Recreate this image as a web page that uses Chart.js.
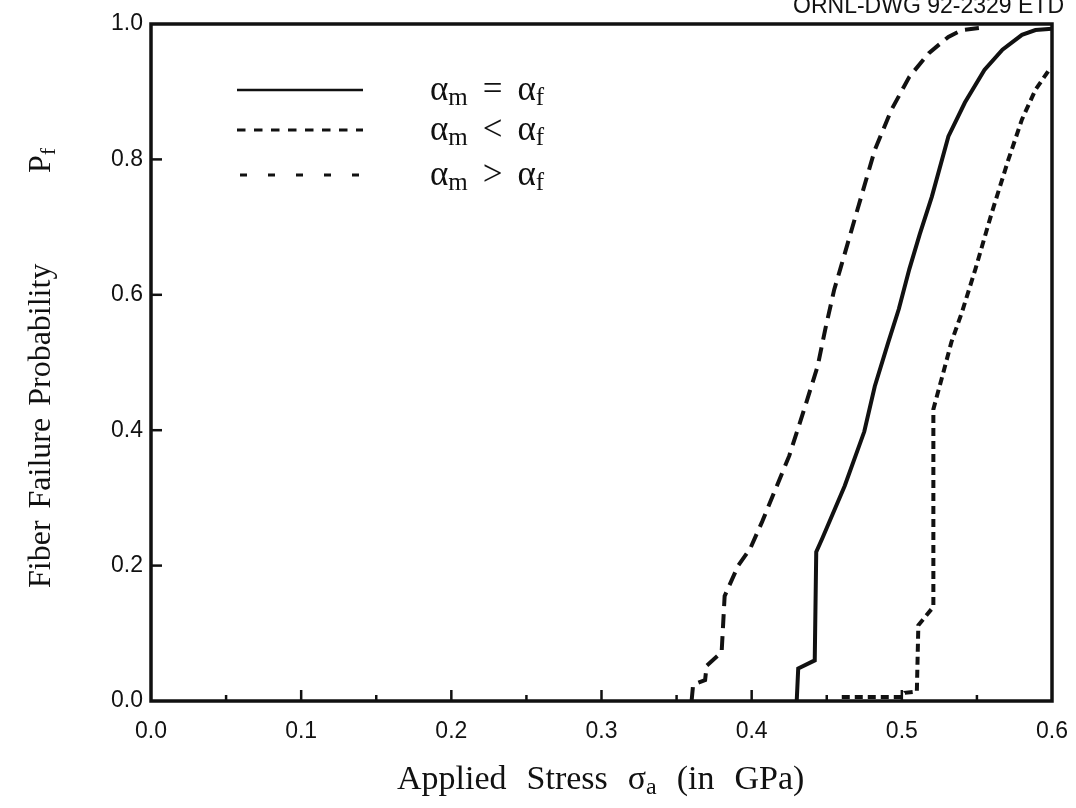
<!DOCTYPE html>
<html lang="en">
<head>
<meta charset="UTF-8">
<title>Fiber Failure Probability</title>
<script src="https://cdn.jsdelivr.net/npm/chart.js@4.4.1/dist/chart.umd.min.js"></script>
<style>
    html, body { margin: 0; padding: 0; background: #fff; }
</style>
</head>
<body>
<canvas id="pfChart" width="1076" height="808"></canvas>
<script>
// values (stress in GPa, probability P_f)
const stressEq = [0.430, 0.431, 0.442, 0.443, 0.447, 0.462, 0.475, 0.482, 0.491, 0.498, 0.505, 0.512, 0.520, 0.531, 0.542, 0.555, 0.567, 0.580, 0.589, 0.600];
const probEq   = [0.000, 0.048, 0.060, 0.220, 0.240, 0.318, 0.398, 0.465, 0.530, 0.579, 0.638, 0.690, 0.745, 0.834, 0.884, 0.932, 0.962, 0.984, 0.991, 0.993];

const stressLt = [0.460, 0.500, 0.502, 0.510, 0.511, 0.521, 0.521, 0.527, 0.533, 0.540, 0.549, 0.560, 0.571, 0.580, 0.589, 0.598, 0.600];
const probLt   = [0.006, 0.006, 0.012, 0.014, 0.112, 0.139, 0.431, 0.480, 0.530, 0.574, 0.638, 0.722, 0.800, 0.859, 0.903, 0.932, 0.935];

const stressGt = [0.360, 0.361, 0.369, 0.370, 0.380, 0.382, 0.391, 0.399, 0.407, 0.425, 0.435, 0.444, 0.449, 0.455, 0.459, 0.471, 0.482, 0.493, 0.505, 0.518, 0.531, 0.540, 0.555];
const probGt   = [0.000, 0.024, 0.031, 0.052, 0.072, 0.155, 0.200, 0.225, 0.265, 0.362, 0.431, 0.495, 0.549, 0.608, 0.638, 0.730, 0.814, 0.873, 0.922, 0.957, 0.981, 0.991, 0.995];

const xTickLabels = ['0.0', '0.1', '0.2', '0.3', '0.4', '0.5', '0.6'];
const yTickLabels = ['0.0', '0.2', '0.4', '0.6', '0.8', '1.0'];
const seriesNames = [['m', '=', 'f'], ['m', '<', 'f'], ['m', '>', 'f']];

const INK = '#111';
const SERIF = '"Liberation Serif", "DejaVu Serif", serif';
const SANS = '"Liberation Sans", Arial, sans-serif';

function toPoints(xs, ys) {
    return xs.map((x, i) => ({ x: x, y: ys[i] }));
}

// text with a lowered, smaller subscript; returns the advance
function drawSub(ctx, x, y, main, sub, size) {
    ctx.font = size + 'px ' + SERIF;
    ctx.fillText(main, x, y);
    let w = ctx.measureText(main).width;
    ctx.font = Math.round(size * 0.7) + 'px ' + SERIF;
    ctx.fillText(sub, x + w, y + Math.round(size * 0.15));
    return w + ctx.measureText(sub).width;
}

// words drawn one after another with a fixed gap between them
function drawWords(ctx, x, y, words, size, gap) {
    ctx.font = size + 'px ' + SERIF;
    words.forEach(w => {
        if (Array.isArray(w)) {
            x += drawSub(ctx, x, y, w[0], w[1], size);
            ctx.font = size + 'px ' + SERIF;
        } else {
            ctx.fillText(w, x, y);
            x += ctx.measureText(w).width;
        }
        x += gap;
    });
}

const decorations = {
    id: 'decorations',
    beforeDraw(chart) {
        const ctx = chart.ctx;
        ctx.save();
        ctx.fillStyle = '#fff';
        ctx.fillRect(0, 0, chart.width, chart.height);
        ctx.restore();
    },
    afterDatasetsDraw(chart) {
        const ctx = chart.ctx;
        const a = chart.chartArea;
        const xs = chart.scales.x, ys = chart.scales.y;
        ctx.save();
        ctx.strokeStyle = INK;
        ctx.lineWidth = 3.5;
        ctx.setLineDash([]);
        ctx.strokeRect(a.left, a.top, a.right - a.left, a.bottom - a.top);

        // inward ticks: x every 0.05 (major at 0.1), y every 0.2
        ctx.lineWidth = 2.5;
        for (let i = 1; i < 12; i++) {
            const px = xs.getPixelForValue(i * 0.05);
            const len = i % 2 === 0 ? 11 : 6;
            ctx.beginPath();
            ctx.moveTo(px, a.bottom);
            ctx.lineTo(px, a.bottom - len);
            ctx.stroke();
        }
        for (let i = 1; i < 5; i++) {
            const py = ys.getPixelForValue(i * 0.2);
            ctx.beginPath();
            ctx.moveTo(a.left, py);
            ctx.lineTo(a.left + 11, py);
            ctx.stroke();
        }
        ctx.restore();
    },
    afterDraw(chart) {
        const ctx = chart.ctx;
        ctx.save();
        ctx.fillStyle = INK;
        ctx.strokeStyle = INK;
        ctx.textBaseline = 'alphabetic';

        // legend
        const rows = [90, 130, 175];
        const samples = [[237, 363, []], [237, 363, [8.5, 8.5]], [240, 360, [7, 21]]];
        rows.forEach((ry, i) => {
            ctx.lineWidth = i === 0 ? 2.5 : 3;
            ctx.setLineDash(samples[i][2]);
            ctx.beginPath();
            ctx.moveTo(samples[i][0], ry);
            ctx.lineTo(samples[i][1], ry);
            ctx.stroke();
            ctx.setLineDash([]);
            const parts = seriesNames[i];
            let x = 430;
            const base = ry + 10;
            x += drawSub(ctx, x, base, '\u03b1', parts[0], 35);
            x += 15;
            ctx.font = '35px ' + SERIF;
            ctx.fillText(parts[1], x, base);
            x += ctx.measureText(parts[1]).width + 15;
            drawSub(ctx, x, base, '\u03b1', parts[2], 35);
        });

        // x axis title
        drawWords(ctx, 397, 789, ['Applied', 'Stress', ['\u03c3', 'a'], '(in', 'GPa)'], 34, 20);

        // y axis title, rotated
        ctx.translate(50, 588);
        ctx.rotate(-Math.PI / 2);
        drawWords(ctx, 0, 0, ['Fiber', 'Failure', 'Probability'], 32, 12);
        drawSub(ctx, 415, 0, 'P', 'f', 32);
        ctx.setTransform(1, 0, 0, 1, 0, 0);

        // drawing number, clipped at the top edge in the scan
        ctx.font = '23px ' + SANS;
        ctx.textAlign = 'right';
        ctx.fillText('ORNL-DWG 92-2329 ETD', 1064, 13);
        ctx.restore();
    }
};

const ctx = document.getElementById('pfChart').getContext('2d');
const pfChart = new Chart(ctx, {
    type: 'line',
    data: {
        datasets: [
            {
                label: 'am = af',
                data: toPoints(stressEq, probEq),
                borderColor: INK,
                borderWidth: 4,
                pointRadius: 0,
                tension: 0,
                fill: false
            },
            {
                label: 'am < af',
                data: toPoints(stressLt, probLt),
                borderColor: INK,
                borderWidth: 4,
                borderDash: [8, 5],
                pointRadius: 0,
                tension: 0,
                fill: false
            },
            {
                label: 'am > af',
                data: toPoints(stressGt, probGt),
                borderColor: INK,
                borderWidth: 4,
                borderDash: [14, 8],
                pointRadius: 0,
                tension: 0,
                fill: false
            }
        ]
    },
    options: {
        responsive: false,
        animation: false,
        layout: { padding: { top: 24, right: 24, left: 0, bottom: 0 } },
        plugins: {
            legend: { display: false },
            tooltip: { enabled: false }
        },
        scales: {
            x: {
                type: 'linear',
                min: 0,
                max: 0.6,
                afterFit: s => {
                    s.height = 107;
                    s.paddingLeft = 0;
                    s.paddingRight = 0;
                },
                grid: { display: false, drawTicks: false },
                border: { display: false },
                ticks: {
                    stepSize: 0.1,
                    padding: 17,
                    maxRotation: 0,
                    autoSkip: false,
                    color: INK,
                    font: { family: SANS, size: 23 },
                    callback: v => xTickLabels[Math.round(v * 10)]
                }
            },
            y: {
                min: 0,
                max: 1,
                afterFit: s => {
                    s.width = 151;
                    s.paddingTop = 0;
                    s.paddingBottom = 0;
                },
                grid: { display: false, drawTicks: false },
                border: { display: false },
                ticks: {
                    stepSize: 0.2,
                    padding: 8,
                    color: INK,
                    font: { family: SANS, size: 23 },
                    callback: v => yTickLabels[Math.round(v * 5)]
                }
            }
        }
    },
    plugins: [decorations]
});
</script>
</body>
</html>
